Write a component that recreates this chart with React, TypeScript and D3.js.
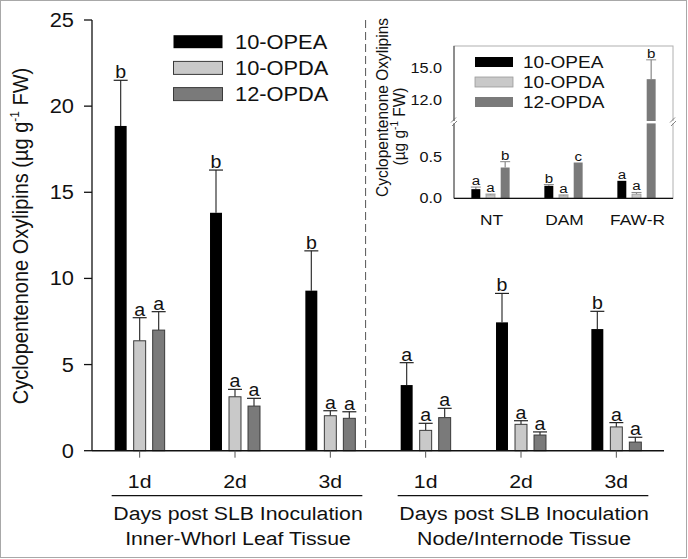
import React from 'react';
import * as d3 from 'd3';

// series + styles
const SERIES = ['10-OPEA', '10-OPDA', '12-OPDA'];
const FILLS = ['#000000', '#c9c9c9', '#7a7a7a'];
const STROKES = ['#000000', '#3a3a3a', '#3a3a3a'];

// main panel
const GROUPS = ['L1', 'L2', 'L3', 'R1', 'R2', 'R3'];
const GROUP_LABELS = ['1d', '2d', '3d', '1d', '2d', '3d'];
const OPEA_MEAN = [18.85, 13.81, 9.29, 3.81, 7.45, 7.06];
const OPEA_ERR = [2.65, 2.48, 2.31, 1.3, 1.68, 1.03];
const OPDA10_MEAN = [6.38, 3.13, 2.03, 1.18, 1.53, 1.38];
const OPDA10_ERR = [1.34, 0.43, 0.29, 0.41, 0.21, 0.25];
const OPDA12_MEAN = [7.0, 2.59, 1.88, 1.92, 0.91, 0.5];
const OPDA12_ERR = [1.07, 0.45, 0.38, 0.54, 0.18, 0.28];
const OPEA_LET = ['b', 'b', 'b', 'a', 'b', 'b'];
const OPDA10_LET = ['a', 'a', 'a', 'a', 'a', 'a'];
const OPDA12_LET = ['a', 'a', 'a', 'a', 'a', 'a'];
const Y_TICKS = [0, 5, 10, 15, 20, 25];
const PANEL_TITLES = [
  ['Days post SLB Inoculation', 'Inner-Whorl Leaf Tissue'],
  ['Days post SLB Inoculation', 'Node/Internode Tissue'],
];

// inset
const INSET_CATS = ['NT', 'DAM', 'FAW-R'];
const IN_OPEA = [0.11, 0.15, 0.21];
const IN_OPEA_ERR = [0.025, 0.015, 0];
const IN_OPDA10 = [0.04, 0.03, 0.05];
const IN_OPDA10_ERR = [0.01, 0.01, 0.02];
const IN_OPDA12 = [0.37, 0.43, 13.96];
const IN_OPDA12_ERR = [0.07, 0, 1.83];
const IN_OPEA_LET = ['a', 'b', 'a'];
const IN_OPDA10_LET = ['a', 'a', 'a'];
const IN_OPDA12_LET = ['b', 'c', 'b'];
const IN_LOW_TICKS = [0, 0.5];
const IN_HIGH_TICKS = [12, 15];

const SX = 1.12; // picture is a bit wider than tall
const FONT = 'Liberation Sans, Arial, Helvetica, sans-serif';

function Txt({ x, y, size, anchor = 'start', rotate = 0, fill = '#111', children }: any) {
  const tr = `translate(${x},${y}) scale(${SX},1)` + (rotate ? ` rotate(${rotate})` : '');
  return (
    <text transform={tr} fontSize={size} textAnchor={anchor} fill={fill}>
      {children}
    </text>
  );
}

export default function App() {
  const W = 688, H = 559;

  // ---- main scales
  const y = d3.scaleLinear().domain([0, 25]).range([450.7, 20]);
  const xo = d3.scaleBand().domain(GROUPS).range([92, 664]).padding(0);
  const bw = xo.bandwidth();
  const xi = d3.scaleBand().domain(SERIES).range([bw / 2 - 28.5, bw / 2 + 28.5])
    .paddingInner(0.37).paddingOuter(0.185);
  const means = [OPEA_MEAN, OPDA10_MEAN, OPDA12_MEAN];
  const errs = [OPEA_ERR, OPDA10_ERR, OPDA12_ERR];
  const lets = [OPEA_LET, OPDA10_LET, OPDA12_LET];
  const center = (g: string) => (xo(g) as number) + bw / 2;
  const sepX = (xo('R1') as number) - bw * 0.13;
  const baseY = y(0);

  // ---- inset scales (broken axis)
  const ix = d3.scaleBand().domain(INSET_CATS).range([454, 673]).padding(0);
  const ibw = ix.bandwidth();
  const iix = d3.scaleBand().domain(SERIES).range([ibw / 2 - 22, ibw / 2 + 22])
    .paddingInner(0.39).paddingOuter(0.195);
  const yLow = d3.scaleLinear().domain([0, 0.9]).range([198.3, 123.4]);
  const yHigh = d3.scaleLinear().domain([10, 17.1]).range([121, 46]);
  const iy = (v: number) => (v <= 0.9 ? yLow(v) : yHigh(v));
  const inMeans = [IN_OPEA, IN_OPDA10, IN_OPDA12];
  const inErrs = [IN_OPEA_ERR, IN_OPDA10_ERR, IN_OPDA12_ERR];
  const inLets = [IN_OPEA_LET, IN_OPDA10_LET, IN_OPDA12_LET];
  const iLeft = 454, iRight = 673, iTop = 46, iBottom = yLow(0);

  const barW = xi.bandwidth();
  const ibarW = iix.bandwidth();

  return (
    <svg width={W} height={H} style={{ position: 'absolute', left: 0, top: 0, background: '#fff' }}
      fontFamily={FONT}>
      <rect x={0.5} y={0.5} width={W - 2} height={H - 2} fill="#fff" stroke="#a8a8a8" />

      {/* separator */}
      <line x1={sepX} x2={sepX} y1={20} y2={baseY} stroke="#555" strokeDasharray="8,4" />

      {/* main bars */}
      {SERIES.map((s, si) => GROUPS.map((g, gi) => {
        const x0 = (xo(g) as number) + (xi(s) as number);
        const m = means[si][gi];
        const top = y(m + errs[si][gi]);
        const cx = x0 + barW / 2;
        return (
          <g key={s + g}>
            <line x1={cx} x2={cx} y1={y(m)} y2={top} stroke="#333" strokeWidth={1.2} />
            <line x1={cx - 7} x2={cx + 7} y1={top} y2={top} stroke="#222" strokeWidth={1.2} />
            <rect x={x0} y={y(m)} width={barW} height={baseY - y(m)} fill={FILLS[si]}
              stroke={STROKES[si]} strokeWidth={si === 0 ? 0 : 1} />
            <Txt x={cx} y={top - 2} size={17.5} anchor="middle">{lets[si][gi]}</Txt>
          </g>
        );
      }))}

      {/* y axis */}
      <line x1={92} x2={92} y1={y(25)} y2={baseY} stroke="#111" strokeWidth={1.3} />
      {Y_TICKS.map(t => (
        <g key={t}>
          <line x1={84} x2={92} y1={y(t)} y2={y(t)} stroke="#111" strokeWidth={1.3} />
          <Txt x={74} y={y(t) + 7} size={19.5} anchor="end">{t}</Txt>
        </g>
      ))}
      <Txt x={28} y={236} size={20} anchor="middle" rotate={-90}>
        Cyclopentenone Oxylipins (µg g<tspan dy={-8} fontSize={12}>-1</tspan><tspan dy={8}> FW)</tspan>
      </Txt>

      {/* x axis */}
      <line x1={92} x2={664} y1={baseY} y2={baseY} stroke="#111" strokeWidth={1.5} />
      {GROUPS.map((g, gi) => (
        <g key={g}>
          <line x1={center(g)} x2={center(g)} y1={baseY} y2={baseY + 7} stroke="#555" />
          <Txt x={center(g)} y={487.5} size={19} anchor="middle">{GROUP_LABELS[gi]}</Txt>
        </g>
      ))}
      {[['L1', 'L3'], ['R1', 'R3']].map(([a, b], pi) => {
        const x1 = center(a) - 28, x2 = center(b) + 32;
        return (
          <g key={a}>
            <line x1={x1} x2={x2} y1={495.7} y2={495.7} stroke="#111" strokeWidth={1.2} />
            <Txt x={(x1 + x2) / 2 + 1} y={520} size={19} anchor="middle">{PANEL_TITLES[pi][0]}</Txt>
            <Txt x={(x1 + x2) / 2 + 1} y={544.5} size={19} anchor="middle">{PANEL_TITLES[pi][1]}</Txt>
          </g>
        );
      })}

      {/* main legend */}
      {SERIES.map((s, si) => {
        const cy = 41.7 + si * 26.2;
        return (
          <g key={s}>
            <rect x={173.5} y={cy - 6.5} width={49} height={13} fill={FILLS[si]}
              stroke={STROKES[si]} strokeWidth={si === 0 ? 0 : 1} />
            <Txt x={235} y={cy + 7} size={19.5}>{s}</Txt>
          </g>
        );
      })}

      {/* ---------- inset ---------- */}
      <rect x={iLeft} y={iTop} width={iRight - iLeft} height={iBottom - iTop} fill="#fff" stroke="#b0b0b0" />
      {SERIES.map((s, si) => INSET_CATS.map((c, ci) => {
        const x0 = (ix(c) as number) + (iix(s) as number);
        const m = inMeans[si][ci];
        const e = inErrs[si][ci];
        const cx = x0 + ibarW / 2;
        const top = iy(m + e);
        const broken = m > 0.9;
        return (
          <g key={s + c}>
            {e > 0 && <line x1={cx} x2={cx} y1={iy(m)} y2={top} stroke="#888" strokeWidth={1.2} />}
            {e > 0 && <line x1={cx - 5} x2={cx + 5} y1={top} y2={top} stroke="#888" strokeWidth={1} />}
            {broken ? (
              <>
                <rect x={x0} y={yLow(0.9)} width={ibarW} height={iBottom - yLow(0.9)} fill={FILLS[si]} />
                <rect x={x0} y={yHigh(m)} width={ibarW} height={yHigh(10) - yHigh(m)} fill={FILLS[si]} />
              </>
            ) : (
              <rect x={x0} y={iy(m)} width={ibarW} height={iBottom - iy(m)} fill={FILLS[si]}
                stroke={si === 1 ? '#999' : 'none'} strokeWidth={0.8} />
            )}
            <Txt x={cx} y={top - 2} size={13.5} anchor="middle">{inLets[si][ci]}</Txt>
          </g>
        );
      }))}
      {/* inset axes */}
      <line x1={iLeft} x2={iLeft} y1={iTop} y2={iBottom} stroke="#444" />
      <line x1={iLeft} x2={iRight} y1={iBottom} y2={iBottom} stroke="#111" strokeWidth={1.3} />
      {[iLeft, iRight].map(bx => (
        <g key={bx}>
          <rect x={bx - 4} y={121} width={8} height={2.4} fill="#fff" />
          <line x1={bx - 3} x2={bx + 2} y1={122.5} y2={117.5} stroke="#666" strokeWidth={0.8} />
          <line x1={bx - 2} x2={bx + 3} y1={126} y2={121} stroke="#666" strokeWidth={0.8} />
        </g>
      ))}
      {IN_LOW_TICKS.map(t => (
        <Txt key={'l' + t} x={442} y={yLow(t) + 5} size={14.5} anchor="end">{t.toFixed(1)}</Txt>
      ))}
      {IN_HIGH_TICKS.map(t => (
        <Txt key={'h' + t} x={442} y={yHigh(t) + 5} size={14.5} anchor="end">{t.toFixed(1)}</Txt>
      ))}
      {INSET_CATS.map(c => (
        <Txt key={c} x={(ix(c) as number) + ibw / 2 + 1} y={225} size={15.5} anchor="middle">{c}</Txt>
      ))}
      <Txt x={387.5} y={107.5} size={15.5} anchor="middle" rotate={-90}>Cyclopentenone Oxylipins</Txt>
      <Txt x={405} y={126.5} size={15.5} anchor="middle" rotate={-90}>
        (µg g<tspan dy={-6} fontSize={10}>-1</tspan><tspan dy={6}> FW)</tspan>
      </Txt>
      {SERIES.map((s, si) => {
        const cy = 62 + si * 20;
        return (
          <g key={'il' + s}>
            <rect x={475} y={cy - 5} width={38} height={10} fill={FILLS[si]}
              stroke={si === 1 ? '#999' : 'none'} strokeWidth={0.8} />
            <Txt x={523} y={cy + 6} size={17}>{s}</Txt>
          </g>
        );
      })}
    </svg>
  );
}
